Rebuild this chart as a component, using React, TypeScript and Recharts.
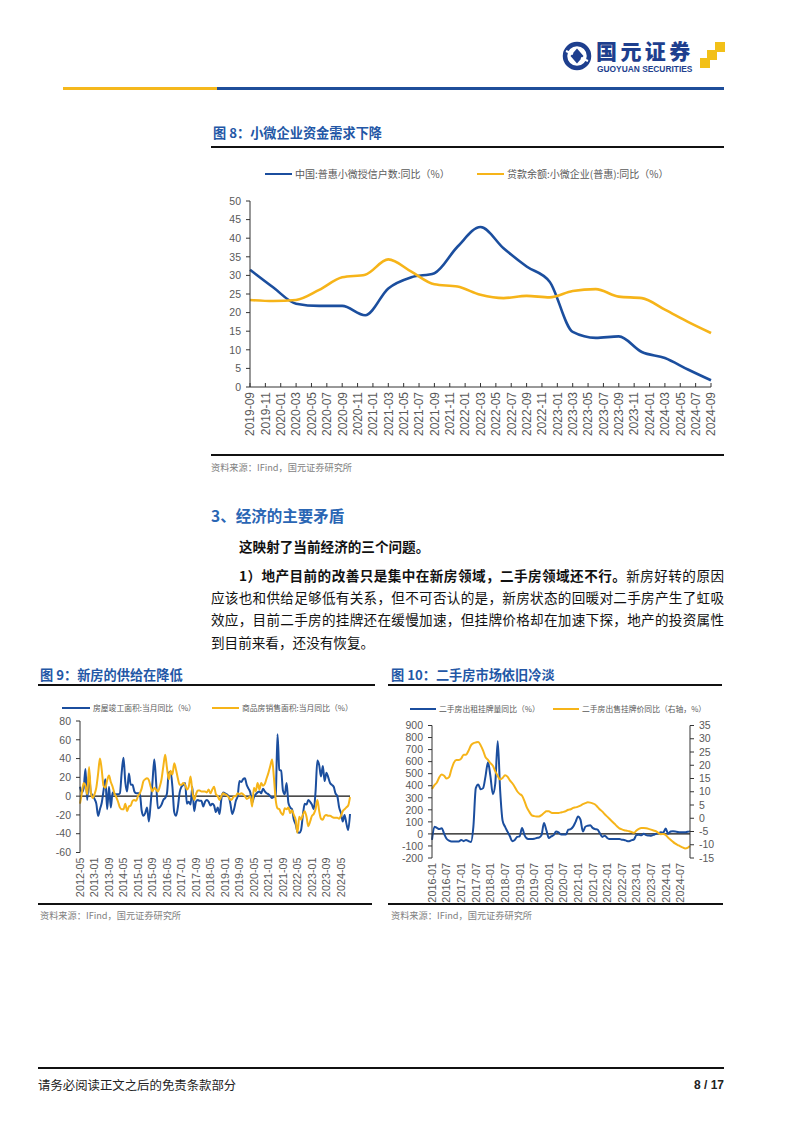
import React from 'react';
import { LineChart, Line, XAxis, YAxis, ReferenceLine } from 'recharts';

const BLUE = '#1B4E9E';
const GOLD = '#F6B419';
const GREY = '#595959';
const TITLE = '#2357A6';
const LOGO = '#1E3F8E';
const SANS = '"Noto Sans CJK SC", "Noto Sans", sans-serif';
const LATIN = '"Liberation Sans", Arial, sans-serif';

// 图8: quarterly readings plotted on a monthly category axis
const fig8Quarters = [
  '2019-09', '2019-12', '2020-03', '2020-06', '2020-09', '2020-12', '2021-03',
  '2021-06', '2021-09', '2021-12', '2022-03', '2022-06', '2022-09', '2022-12',
  '2023-03', '2023-06', '2023-09', '2023-12', '2024-03', '2024-06', '2024-09',
];
const fig8Accounts = [31.5, 26.8, 22.4, 21.8, 21.8, 19.3, 26.5, 29.5, 30.6, 37.7, 43, 37.3, 32.4, 28.3, 14.8, 13.2, 13.6, 9.4, 7.8, 4.7, 1.8];
const fig8Loans = [23.4, 23.1, 23.4, 26.1, 29.5, 30.2, 34.3, 31.0, 27.6, 27.0, 24.8, 23.9, 24.5, 24.1, 25.8, 26.3, 24.3, 23.9, 20.8, 17.5, 14.5];
const fig8Ticks = [0, 5, 10, 15, 20, 25, 30, 35, 40, 45, 50];

// 图9: monthly, 2012-05 onwards
const fig9Completed = [
  10, 4, 8, 29, -4, 24, 3, 1, -3, -8,
  -21, -14, -7, 6, 18, -14, 10, -12, 4, 2,
  2, 2, 3, 25, 41, 15, 5, 24, 12, 12,
  5, 3, 3, 3, -15, -21, -18, -12, -27, -8,
  15, 39, 15, -13, -12, -9, -4, -2, 3, 25,
  26, 10, -17, -21, -12, 4, 10, 12, 14, -8,
  -6, -9, 10, -16, -6, -4, -5, -5, -11, -6,
  -4, -6, -10, -8, -10, -17, -12, -19, -3, 4,
  3, 2, 0, -8, -19, -14, -5, 0, 16, 15,
  18, 19, 12, 8, 4, -7, -1, 2, 4, 5,
  3, 8, 5, 3, 2, 0, -2, -1, 1, 66,
  28, 27, 6, 2, 14, -7, -12, -14, -25, -30,
  -38, -39, -36, -20, -8, -9, -4, -6, -9, -14,
  5, 38, 33, 21, 32, 16, 25, 20, 14, 12,
  10, 3, 0, -12, -18, -27, -20, -29, -36, -19,
];
const fig9Sales = [
  -8, 3, 14, 11, 2, 31, 4, -2, 2, 9,
  24, 40, 28, 11, 9, 17, 22, 15, 10, 3,
  -1, -6, -12, -14, -14, -8, -16, -11, -10, -5,
  -4, -5, 0, 3, 8, 16, 18, 19, 17, 10,
  5, 9, 7, 5, 10, 18, 32, 44, 30, 18,
  27, 23, 35, 28, 19, 12, 12, 14, 12, 7,
  10, 21, 5, -4, 2, 6, 6, 5, 5, 5,
  4, 7, 3, 7, 10, 2, 0, -4, 0, 3,
  2, 1, -1, -4, -3, 0, 0, 3, 2, 3,
  2, 0, -3, -2, 0, -11, 9, 5, 14, 7,
  14, 11, 13, 19, 25, 32, 39, 20, -4, -13,
  -14, -18, -20, -13, -14, -12, -18, -15, -20, -25,
  -39, -22, -25, -20, -16, -22, -32, -27, -21, -19,
  -14, -4, -16, -24, -25, -21, -20, -21, -21, -22,
  -23, -23, -23, -24, -21, -16, -14, -12, -10, -1,
];
const fig9Ticks = [-60, -40, -20, 0, 20, 40, 60, 80];

// 图10: monthly, 2016-01 onwards
const fig10Rent = [
  -50, 60, 50, 40, 48, 0, -40, -55, -62, -62,
  -62, -62, -50, -60, -50, -60, -68, 60, 380, 410,
  370, 380, 480, 595, 480, 330, 420, 770, 360, 110,
  60, 20, -20, -60, -50, -25, -20, 50, -10, -38,
  -43, -43, -40, -34, -30, -10, 90, 30, -34, -20,
  -10, 20, 12, -5, -5, -5, 35, 40, 60, 100,
  145, 118, 20, 60, 68, 72, 50, 40, 35, 5,
  -25, -15, -34, -43, -43, -43, -43, -43, -48, -50,
  -58, -60, -52, -45, -10, -8, -12, 2, -10, -13,
  -15, -8, 0, 5, 13, 10, 45, 2, 20, 22,
  21, 15, 13, 13, 13, 18, 21,
];
const fig10Price = [
  11, 12.5, 13.5, 15.5, 16.5, 16, 15, 15.5, 18.5, 21,
  22, 22, 22.5, 24, 24, 25.5, 27.5, 28.3, 28.6, 28.8,
  27.5, 25.5, 23, 22, 20.8, 19.8, 17.7, 16, 14.6, 15.2,
  16.2, 15.7, 14.3, 13.2, 11.8, 10.2, 9.2, 8.5, 6.5, 4,
  2.4, 1.1, 0.8, 0.7, 0.7, 1.2, 2, 2.6, 2.6, 2.1,
  2, 2, 2, 2.2, 2.4, 2.7, 3.2, 3.4, 3.9, 4.1,
  4.4, 4.8, 5.3, 5.7, 6, 5.9, 5.6, 5.2, 4.3, 3.3,
  2.5, 1.5, 0.6, -0.3, -1.2, -2.1, -3, -3.8, -4.2, -4.5,
  -4.7, -4.9, -5.2, -5.5, -4.6, -4, -3.7, -3.7, -3.8, -4,
  -4.3, -4.6, -4.9, -5.5, -6, -5.9, -6.3, -7.3, -8.1, -8.9,
  -9.6, -10.1, -10.6, -11, -11.4, -11.2, -10.5,
];
const fig10LeftTicks = [-200, -100, 0, 100, 200, 300, 400, 500, 600, 700, 800, 900];
const fig10RightTicks = [-15, -10, -5, 0, 5, 10, 15, 20, 25, 30, 35];

const monthRange = (year: number, month: number, count: number) =>
  Array.from({ length: count }, (_, i) => {
    const t = year * 12 + (month - 1) + i;
    return `${Math.floor(t / 12)}-${String((t % 12) + 1).padStart(2, '0')}`;
  });

const fig8Data = monthRange(2019, 9, 61).map(label => {
  const q = fig8Quarters.indexOf(label);
  return { label, accounts: q >= 0 ? fig8Accounts[q] : null, loans: q >= 0 ? fig8Loans[q] : null };
});
const fig9Data = monthRange(2012, 5, fig9Completed.length).map((label, i) => ({
  label, completed: fig9Completed[i], sales: fig9Sales[i],
}));
const fig10Data = monthRange(2016, 1, fig10Rent.length).map((label, i) => ({
  label, rent: fig10Rent[i], price: fig10Price[i],
}));

// rotated date label, optional small tick mark pointing up into the plot
const DateTick = (props: any) => {
  const { x, y, payload, fs = 10, gap = 4, mark = 0 } = props;
  return (
    <g transform={`translate(${x},${y})`}>
      {mark > 0 && <line x1={0} y1={0} x2={0} y2={-mark} stroke="#333" strokeWidth={1} />}
      <text transform="rotate(-90)" x={-gap} y={0} dy="0.36em" textAnchor="end"
        fill={GREY} fontSize={fs} fontFamily={LATIN}>
        {payload.value}
      </text>
    </g>
  );
};

const yTick = { fill: GREY, fontSize: 10.5, fontFamily: LATIN };

const abs = (left: number, top: number, extra: React.CSSProperties = {}): React.CSSProperties => ({
  position: 'absolute', left, top, ...extra,
});

const Rule = ({ left, top, width, h = 2, color = '#111' }: any) => (
  <div style={abs(left, top, { width, height: h, background: color })} />
);

const LegendItem = ({ left, top, color, text, fs, sw = 27, lw = 2.5 }: any) => (
  <div style={abs(left, top, { display: 'flex', alignItems: 'center', whiteSpace: 'nowrap' })}>
    <div style={{ width: sw, height: lw, background: color, marginRight: 3 }} />
    <span style={{ fontSize: fs, color: GREY, fontFamily: SANS, lineHeight: 1 }}>{text}</span>
  </div>
);

const FigTitle = ({ left, top, text }: any) => (
  <div style={abs(left, top, { fontSize: 13.2, fontWeight: 700, color: TITLE, lineHeight: '18px', whiteSpace: 'nowrap' })}>
    {text}
  </div>
);

const Source = ({ left, top }: any) => (
  <div style={abs(left, top, { fontSize: 9.2, color: '#7F7F7F', lineHeight: '12px', whiteSpace: 'nowrap' })}>
    资料来源：IFind，国元证券研究所
  </div>
);

function Logo() {
  return (
    <>
      <svg style={abs(562, 41)} width={30} height={30} viewBox="0 0 30 30">
        <circle cx={15} cy={15} r={12} fill="none" stroke={LOGO} strokeWidth={4.5} />
        <path d="M15 7.5 L21.5 15 L15 22.5 L8.5 15 Z" fill={LOGO} />
        <path d="M4 10 L11 13 M26 20 L19 17" stroke="#fff" strokeWidth={2} />
      </svg>
      <div style={abs(596, 38, { fontSize: 21, fontWeight: 900, color: LOGO, letterSpacing: 3.4, lineHeight: '24px', whiteSpace: 'nowrap' })}>
        国元证券
      </div>
      <div style={abs(597, 65, { fontSize: 8.4, fontWeight: 700, color: LOGO, fontFamily: LATIN, lineHeight: '9px', whiteSpace: 'nowrap' })}>
        GUOYUAN SECURITIES
      </div>
      <div style={abs(715, 42, { width: 10, height: 10, background: '#F2C018' })} />
      <div style={abs(707, 50, { width: 10, height: 10, background: '#F2C018' })} />
      <div style={abs(700, 58, { width: 10, height: 10, background: '#F2C018' })} />
    </>
  );
}

function Fig8() {
  return (
    <div style={abs(200, 190)}>
      <LineChart width={530} height={260} data={fig8Data} margin={{ top: 11, right: 19, bottom: 3, left: 0 }}>
        <XAxis dataKey="label" interval={1} height={60} tickSize={0} tickMargin={0}
          axisLine={{ stroke: '#333' }} tickLine={false}
          tick={<DateTick fs={12} gap={5} mark={4} />} />
        <YAxis domain={[0, 50]} ticks={fig8Ticks} width={50} tickSize={4} tickMargin={5}
          axisLine={{ stroke: '#333' }} tickLine={{ stroke: '#333' }} tick={yTick} interval={0} />
        <Line dataKey="accounts" type="monotone" stroke={BLUE} strokeWidth={2.6} dot={false} connectNulls isAnimationActive={false} />
        <Line dataKey="loans" type="monotone" stroke={GOLD} strokeWidth={2.6} dot={false} connectNulls isAnimationActive={false} />
      </LineChart>
    </div>
  );
}

function Fig9() {
  return (
    <div style={abs(30, 712)}>
      <LineChart width={330} height={200} data={fig9Data} margin={{ top: 9, right: 10, bottom: 3.5, left: 0 }}>
        <XAxis dataKey="label" interval={7} height={56} tickSize={0} tickMargin={0}
          axisLine={false} tickLine={false} tick={<DateTick fs={10.8} gap={5} />} />
        <YAxis domain={[-60, 80]} ticks={fig9Ticks} width={50} tickSize={4} tickMargin={5}
          axisLine={{ stroke: '#333' }} tickLine={{ stroke: '#333' }} tick={yTick} interval={0} />
        <ReferenceLine y={0} stroke="#111" strokeWidth={1.3} />
        <Line dataKey="completed" type="monotone" stroke={BLUE} strokeWidth={2} dot={false} isAnimationActive={false} />
        <Line dataKey="sales" type="monotone" stroke={GOLD} strokeWidth={2} dot={false} isAnimationActive={false} />
      </LineChart>
    </div>
  );
}

function Fig10() {
  return (
    <div style={abs(380, 712)}>
      <LineChart width={340} height={200} data={fig10Data} margin={{ top: 13.5, right: 0, bottom: 3, left: 0 }}>
        <XAxis dataKey="label" interval={5} height={51} tickSize={0} tickMargin={0}
          axisLine={false} tickLine={false} tick={<DateTick fs={10.8} gap={5} />} />
        <YAxis yAxisId="left" domain={[-200, 900]} ticks={fig10LeftTicks} width={52} tickSize={4} tickMargin={5}
          axisLine={{ stroke: '#333' }} tickLine={{ stroke: '#333' }} tick={yTick} interval={0} />
        <YAxis yAxisId="right" orientation="right" domain={[-15, 35]} ticks={fig10RightTicks} width={30} tickSize={4} tickMargin={5}
          axisLine={{ stroke: '#333' }} tickLine={{ stroke: '#333' }} tick={yTick} interval={0} />
        <ReferenceLine yAxisId="left" y={0} stroke="#111" strokeWidth={1.3} />
        <Line yAxisId="left" dataKey="rent" type="monotone" stroke={BLUE} strokeWidth={2} dot={false} isAnimationActive={false} />
        <Line yAxisId="right" dataKey="price" type="monotone" stroke={GOLD} strokeWidth={2} dot={false} isAnimationActive={false} />
      </LineChart>
    </div>
  );
}

const bodyLine = (top: number, left: number, width: number, justify: boolean): React.CSSProperties =>
  abs(left, top, {
    width, fontSize: 13.6, lineHeight: '22px', color: '#111', whiteSpace: 'nowrap',
    textAlign: justify ? 'justify' : 'left', textAlignLast: justify ? 'justify' : 'left',
  });

export default function App() {
  return (
    <div style={{ position: 'absolute', left: 0, top: 0, width: 802, height: 1133, background: '#fff', overflow: 'hidden', fontFamily: SANS }}>
      <Logo />
      <Rule left={63} top={87} width={154} h={3} color="#F5B81C" />
      <Rule left={217} top={87} width={507} h={3} color="#1F4E9A" />

      <FigTitle left={213} top={124} text="图 8：小微企业资金需求下降" />
      <Rule left={211} top={146} width={513} />
      <LegendItem left={265} top={169} color={BLUE} fs={10} text="中国:普惠小微授信户数:同比（%）" />
      <LegendItem left={477} top={169} color={GOLD} fs={10} text="贷款余额:小微企业(普惠):同比（%）" />
      <Fig8 />
      <Rule left={211} top={454} width={513} />
      <Source left={211} top={461} />

      <div style={abs(211, 505, { fontSize: 15.5, fontWeight: 700, color: '#2A66B4', lineHeight: '20px', whiteSpace: 'nowrap' })}>
        3、经济的主要矛盾
      </div>
      <div style={abs(239, 535, { fontSize: 13.6, fontWeight: 700, lineHeight: '22px', color: '#111', whiteSpace: 'nowrap' })}>
        这映射了当前经济的三个问题。
      </div>
      <div style={bodyLine(564, 239, 485, true)}>
        <b>1）地产目前的改善只是集中在新房领域，二手房领域还不行。</b>新房好转的原因
      </div>
      <div style={bodyLine(586.2, 211, 513, true)}>应该也和供给足够低有关系，但不可否认的是，新房状态的回暖对二手房产生了虹吸</div>
      <div style={bodyLine(608.4, 211, 513, true)}>效应，目前二手房的挂牌还在缓慢加速，但挂牌价格却在加速下探，地产的投资属性</div>
      <div style={bodyLine(630.6, 211, 513, false)}>到目前来看，还没有恢复。</div>

      <FigTitle left={40} top={666} text="图 9：新房的供给在降低" />
      <Rule left={38} top={684} width={337} />
      <LegendItem left={62} top={704} color={BLUE} fs={7.8} sw={28} lw={2.2} text="房屋竣工面积:当月同比（%）" />
      <LegendItem left={212} top={704} color={GOLD} fs={7.8} sw={27} lw={2.2} text="商品房销售面积:当月同比（%）" />
      <Fig9 />
      <Rule left={38} top={903} width={334} />
      <Source left={40} top={909} />

      <FigTitle left={391} top={666} text="图 10：二手房市场依旧冷淡" />
      <Rule left={388} top={684} width={334} />
      <LegendItem left={410} top={705} color={BLUE} fs={7.8} sw={26} lw={2.2} text="二手房出租挂牌量同比（%）" />
      <LegendItem left={553} top={705} color={GOLD} fs={7.8} sw={26} lw={2.2} text="二手房出售挂牌价同比（右轴，%）" />
      <Fig10 />
      <Rule left={388} top={903} width={335} />
      <Source left={391} top={909} />

      <Rule left={38} top={1067} width={686} />
      <div style={abs(38, 1077, { fontSize: 12.4, color: '#222', lineHeight: '16px', whiteSpace: 'nowrap' })}>
        请务必阅读正文之后的免责条款部分
      </div>
      <div style={abs(664, 1077, { width: 60, textAlign: 'right', fontSize: 12, fontWeight: 700, fontFamily: LATIN, color: '#222', lineHeight: '16px' })}>
        8 / 17
      </div>
    </div>
  );
}
